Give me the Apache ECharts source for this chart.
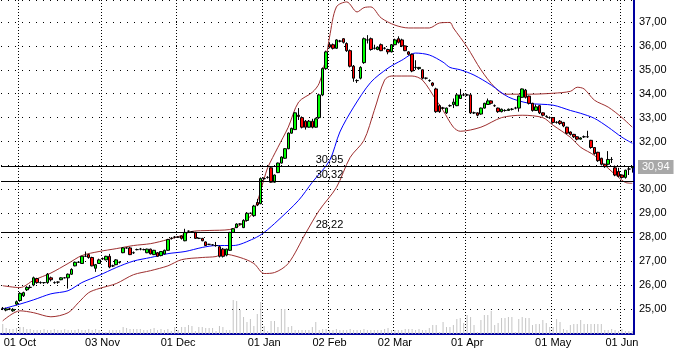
<!DOCTYPE html>
<html><head><meta charset="utf-8">
<script src="https://cdn.jsdelivr.net/npm/echarts@6/dist/echarts.min.js"></script>
<style>html,body{margin:0;padding:0;background:#fff}#c{width:681px;height:348px}</style>
</head><body><div id="c"></div>
<script>
// candles: [open, close, low, high]
const candles = [
[25.02,25.02,24.95,25.08],[24.95,25.0,24.9,25.05],[25.0,25.0,24.95,25.05],[24.92,24.98,24.88,25.03],[25.2,25.3,25.15,25.35],
[25.35,25.65,25.3,25.7],[25.55,25.68,25.5,25.72],[25.8,25.9,25.75,25.95],[25.9,25.9,25.85,25.95],[26.0,26.3,25.95,26.35],
[26.27,26.1,26.05,26.3],[26.1,26.1,26.05,26.15],[26.1,26.1,26.05,26.12],[26.1,26.45,26.05,26.5],[26.3,26.22,26.15,26.35],
[26.1,26.1,26.05,26.15],[26.12,26.12,26.05,26.15],[26.22,26.3,26.2,26.32],[26.3,26.3,26.28,26.33],[26.3,26.45,25.85,26.48],
[26.45,26.65,26.42,26.7],[26.8,26.95,26.78,26.98],[26.95,26.95,26.93,26.98],[26.9,27.2,26.88,27.22],[27.2,27.2,27.18,27.4],
[27.27,27.15,27.1,27.3],[27.15,26.8,26.78,27.18],[26.7,26.85,26.55,26.88],[26.9,27.05,26.88,27.1],[27.1,27.1,27.05,27.15],
[27.05,27.2,27.03,27.22],[27.2,26.75,26.7,27.3],[26.8,26.8,26.75,26.85],[26.85,27.05,26.83,27.08],[26.95,26.95,26.9,26.98],
[27.35,27.55,27.33,27.58],[27.55,27.55,27.52,27.58],[27.55,27.27,27.25,27.6],[27.35,27.35,27.3,27.4],[27.48,27.48,27.45,27.52],
[27.5,27.5,27.45,27.55],[27.48,27.48,27.45,27.52],[27.35,27.5,27.33,27.52],[27.5,27.3,27.28,27.52],[27.27,27.45,27.25,27.47],
[27.35,27.2,27.18,27.38],[27.23,27.4,27.2,27.42],[27.3,27.45,27.28,27.48],[27.45,27.9,27.43,27.93],[27.95,27.95,27.9,28.0],
[28.0,28.0,27.95,28.05],[28.0,28.0,27.97,28.03],[28.05,27.95,27.9,28.07],[27.85,28.2,27.83,28.35],[28.25,28.25,28.2,28.28],
[28.22,28.22,28.2,28.25],[28.2,27.95,27.93,28.22],[27.95,27.95,27.92,27.98],[27.95,27.85,27.83,27.97],[27.8,27.65,27.63,27.82],
[27.7,27.7,27.67,27.72],[27.68,27.68,27.65,27.7],[27.65,27.65,27.6,27.8],[27.6,27.2,27.15,27.65],[27.5,27.2,27.15,27.55],
[27.25,27.5,27.2,27.52],[27.45,28.2,27.43,28.22],[28.2,28.35,28.18,28.38],[28.4,28.55,28.38,28.58],[28.55,28.55,28.52,28.58],
[28.4,28.7,28.38,28.75],[28.7,29.0,28.65,29.05],[29.0,29.0,28.97,29.03],[28.9,29.3,28.85,29.35],[29.45,29.35,29.3,29.6],
[29.4,30.45,29.38,30.5],[30.45,30.45,30.4,30.5],[30.5,30.5,30.45,30.55],[30.9,30.3,30.28,30.92],[30.3,30.6,30.28,30.62],
[30.7,31.1,30.68,31.12],[31.1,31.35,31.08,31.38],[31.3,31.7,31.28,31.72],[31.7,32.35,31.68,32.38],[32.35,32.55,32.33,32.58],
[32.5,33.2,32.48,33.22],[33.1,33.05,32.9,33.4],[33.0,32.6,32.55,33.05],[32.85,32.6,32.5,32.9],[32.6,32.85,32.58,32.9],
[32.85,32.6,32.55,32.95],[32.6,32.95,32.58,33.0],[33.0,33.95,32.95,34.0],[33.95,35.05,33.9,35.1],[35.05,35.75,35.0,35.8],
[36.05,35.95,35.9,36.15],[36.05,35.9,35.85,36.1],[35.9,36.25,35.88,36.28],[36.2,36.2,36.15,36.25],[36.3,36.15,36.1,36.32],
[36.1,35.8,35.75,36.15],[35.8,35.15,35.1,35.85],[35.15,34.65,34.5,35.2],[34.55,34.55,34.45,34.6],[34.65,35.1,34.6,35.15],
[35.3,36.3,35.25,36.35],[36.25,36.25,36.1,36.45],[36.3,35.85,35.8,36.35],[35.9,35.9,35.85,36.05],[35.85,35.95,35.82,35.98],
[36.05,35.8,35.78,36.1],[35.9,35.9,35.85,35.95],[35.85,35.75,35.65,35.88],[35.75,36.05,35.73,36.08],[36.05,36.25,36.03,36.3],
[36.3,36.15,36.1,36.4],[36.25,36.0,35.95,36.3],[36.0,35.8,35.78,36.02],[35.75,35.65,35.6,35.78],[35.65,34.95,34.9,35.68],
[35.1,35.1,35.0,35.4],[35.05,35.1,35.0,35.12],[35.0,34.65,34.6,35.02],[34.65,34.65,34.6,34.68],[34.55,34.55,34.5,34.6],
[34.45,34.35,34.3,34.48],[34.2,33.25,33.2,34.25],[33.5,33.25,33.2,33.55],[33.4,33.4,33.35,33.45],[33.2,33.4,33.15,33.42],
[33.5,33.5,33.45,33.55],[33.55,33.65,33.4,33.8],[33.5,33.95,33.48,33.98],[33.8,33.95,33.78,34.2],[33.95,33.95,33.9,34.0],
[33.95,33.95,33.9,34.0],[33.95,33.2,33.15,33.98],[33.2,33.2,33.15,33.25],[33.2,33.1,33.05,33.22],[33.15,33.4,33.12,33.42],
[33.4,33.6,33.38,33.62],[33.55,33.7,33.53,33.8],[33.7,33.6,33.55,33.72],[33.5,33.5,33.45,33.55],[33.4,33.25,33.2,33.42],
[33.25,33.35,33.22,33.38],[33.3,33.3,33.25,33.35],[33.3,33.35,33.28,33.38],[33.35,33.35,33.3,33.4],[33.4,33.4,33.35,33.45],
[33.4,33.9,33.25,33.92],[33.85,34.2,33.83,34.22],[34.15,33.85,33.8,34.2],[33.9,33.6,33.55,33.92],[33.6,33.3,33.25,33.62],
[33.3,33.45,33.28,33.55],[33.5,33.2,33.15,33.52],[33.2,33.1,33.05,33.22],[33.05,33.05,33.0,33.1],[33.0,33.0,32.95,33.05],
[33.0,32.8,32.75,33.02],[32.8,32.8,32.75,32.85],[32.85,32.75,32.7,32.9],[32.8,32.65,32.6,32.82],[32.6,32.35,32.3,32.62],
[32.4,32.3,32.25,32.42],[32.3,32.2,32.15,32.32],[32.2,32.1,32.05,32.22],[32.1,32.15,32.08,32.18],[32.2,32.2,32.15,32.25],
[32.2,32.2,32.15,32.45],[32.05,31.75,31.7,32.07],[31.75,31.5,31.45,31.77],[31.55,31.2,31.15,31.57],[31.3,31.05,31.0,31.32],
[31.05,30.95,30.9,31.07],[31.05,31.25,31.0,31.6],[31.25,31.25,31.1,31.35],[30.9,30.6,30.55,31.0],[30.75,30.55,30.5,30.9],
[30.6,30.5,30.45,30.62],[30.5,30.8,30.45,30.82],[30.85,30.85,30.6,30.95],[30.9,30.94,30.7,30.97]
];
const volume = [
10,6,5,5,6,7,7,5,5,4, 4,4,5,4,4,5,4,4,5,4, 4,4,5,4,4,5,4,5,4,2, 2,4,4,4,4,7,6,5,5,5, 5,4,4,5,6,4,5,4,5,3, 7,
4,7,7,9,8,3,7,7,6,6, 6,3,8,7,4,4,34,33,24,17, 12,15,8,20,32,8,3,13,13,7, 25,25,7,8,4,4,4,4,4,7, 12,4,5,5,
4,4,5,4,4,4,5,4,4,4, 5,4,4,4,4,4,5,6,4,4, 4,4,5,5,5,4,5,4,4,6, 9,
9,2,12,7,7,9,15,16,11,19, 17,9,2,14,19,19,23,9,11,16, 16,17,17,2,15,17,16,16,9,10, 10,14,11,7,7,15,12,5,4,9, 10,10,14,10,10,10,10,10,10,4, 4,5,4,3,5,3,3,3
];
// month tick positions (candle index) and labels
const tickIdx = [5,29,51,76,95,114,135,160,180];
const tickLabels = ['01 Oct','03 Nov','01 Dec','01 Jan','02 Feb','02 Mar','01 Apr','01 May','01 Jun'];
// Bollinger bands and moving average read at sample points [index, value]
const upperBand = [[0,25.97],[5,25.89],[9,26.2],[14,26.5],[19,26.9],[23,27.23],[28,27.4],[33,27.52],[38,27.65],[43,27.73],[48,27.9],[52,28.07],[55,28.24],[60,28.28],[66,28.32],[70,28.6],[73,29.1],[76,30.45],[77,30.9],[80,31.76],[83,32.6],[86,33.65],[90,34.06],[92,34.44],[94,35.53],[95,36.37],[97,37.63],[100,37.84],[103,37.42],[105,37.6],[107,37.63],[110,37.17],[114,36.87],[118,36.75],[124,36.75],[127,36.96],[130,36.98],[131,36.75],[135,35.95],[139,35.0],[143,34.27],[146,33.98],[153,33.98],[160,34.02],[165,34.1],[167,34.27],[169,34.2],[172,33.73],[176,33.44],[180,33.0],[183,32.6]];
const lowerBand = [[0,24.5],[5,24.92],[9,24.84],[14,24.67],[19,24.84],[22,25.26],[25,25.68],[28,25.85],[33,26.06],[38,26.43],[43,26.6],[48,26.8],[52,27.06],[58,27.15],[62,27.19],[64,27.3],[69,27.15],[73,26.9],[76,26.48],[79,26.52],[83,26.9],[88,28.15],[92,29.12],[97,30.08],[101,31.34],[105,32.05],[108,33.3],[111,34.57],[113,34.74],[119,34.74],[122,34.57],[126,33.73],[128,33.3],[131,32.6],[133,32.43],[139,32.6],[145,33.0],[151,33.1],[157,33.0],[160,32.68],[165,32.18],[168,31.76],[172,31.42],[176,30.88],[179,30.5],[181,30.29],[183,30.25]];
const movingAvg = [[0,25.0],[5,25.2],[9,25.38],[14,25.63],[19,25.76],[23,26.1],[28,26.4],[33,26.73],[38,27.0],[43,27.15],[48,27.31],[53,27.4],[58,27.57],[62,27.65],[67,27.65],[73,27.94],[76,28.2],[80,28.7],[86,29.54],[90,30.3],[95,31.2],[98,32.4],[102,33.44],[107,34.48],[112,35.07],[116,35.4],[120,35.7],[124,35.62],[128,35.32],[130,35.1],[133,35.0],[137,34.78],[142,34.36],[147,33.86],[153,33.6],[160,33.52],[165,33.3],[168,33.18],[172,32.97],[176,32.6],[180,32.18],[183,31.93]];
const levels = [30.95, 30.32, 28.22];
const lastPrice = 30.94;

const cats = candles.map((c, i) => String(i));
const fmt = v => v.toFixed(2).replace('.', ',');
const isTick = idx => tickIdx.indexOf(idx) >= 0;
const FONT = 'Liberation Sans';
const BAND = '#9e2f2f';

const chart = echarts.init(document.getElementById('c'));
chart.setOption({
  animation: false,
  backgroundColor: '#fff',
  grid: [
    {left: 1, right: 47, top: 0, bottom: 14},
    {left: 1, right: 47, top: 284, bottom: 14}
  ],
  xAxis: [
    {type: 'category', data: cats, gridIndex: 0,
     axisLine: {show: true, lineStyle: {color: '#0000a0', width: 2}},
     axisTick: {show: false},
     axisLabel: {interval: isTick, formatter: (v, idx) => tickLabels[tickIdx.indexOf(Number(v))] || '',
                 color: '#000', fontSize: 11, fontFamily: FONT, margin: 3},
     splitLine: {show: true, interval: isTick, lineStyle: {color: '#000', type: [1, 2], width: 1}}},
    {type: 'category', data: cats, gridIndex: 1, show: false}
  ],
  yAxis: [
    {type: 'value', position: 'right', gridIndex: 0, min: 23.95, max: 37.92, splitNumber: 14, scale: true,
     axisLine: {show: true, lineStyle: {color: '#0000a0', width: 2}},
     axisTick: {show: false},
     axisLabel: {formatter: v => (v < 24.5 || Math.abs(v - 31) < 0.01 || Math.abs(v - Math.round(v)) > 0.001) ? '' : fmt(v),
                 color: '#000', fontSize: 11, fontFamily: FONT, margin: 5, showMaxLabel: false, showMinLabel: false},
     splitLine: {show: true, lineStyle: {color: '#000', type: [1, 6], width: 1}}},
    {type: 'value', gridIndex: 1, min: 0, max: 50, show: false, splitLine: {show: false}}
  ],
  series: [
    {type: 'bar', xAxisIndex: 1, yAxisIndex: 1, data: volume, barWidth: 1,
     itemStyle: {color: '#c4c4c4'}, z: 1, silent: true},
    {type: 'line', data: upperBand, showSymbol: false, smooth: 0.3,
     lineStyle: {color: BAND, width: 1}, z: 3},
    {type: 'line', data: lowerBand, showSymbol: false, smooth: 0.3,
     lineStyle: {color: BAND, width: 1}, z: 3},
    {type: 'line', data: movingAvg, showSymbol: false, smooth: 0.3,
     lineStyle: {color: '#0000ff', width: 1}, z: 3},
    {type: 'candlestick', data: candles.map(c => [c[0], c[1], c[2], c[3]]), barWidth: 3, z: 4,
     itemStyle: {color: '#00ff00', color0: '#ff0000', borderColor: '#000', borderColor0: '#000', borderWidth: 1},
     markLine: {
       silent: true, symbol: ['none', 'none'], animation: false,
       data: levels.map(v => ({
         yAxis: v,
         lineStyle: {color: '#000', width: 1, type: 'solid'},
         label: {show: true, position: 'insideMiddleTop', formatter: fmt(v), color: '#000',
                 fontSize: 11, fontFamily: FONT, distance: 1, offset: [12, 0]}
       })).concat([{
         yAxis: lastPrice,
         lineStyle: {color: 'rgba(0,0,0,0)', width: 0},
         label: {show: true, position: 'end', formatter: fmt(lastPrice), color: '#fff',
                 backgroundColor: '#a8a8a8', padding: [2, 4, 1, 4], fontSize: 11, fontFamily: FONT, distance: 4}
       }])
     }}
  ]
});
</script></body></html>
